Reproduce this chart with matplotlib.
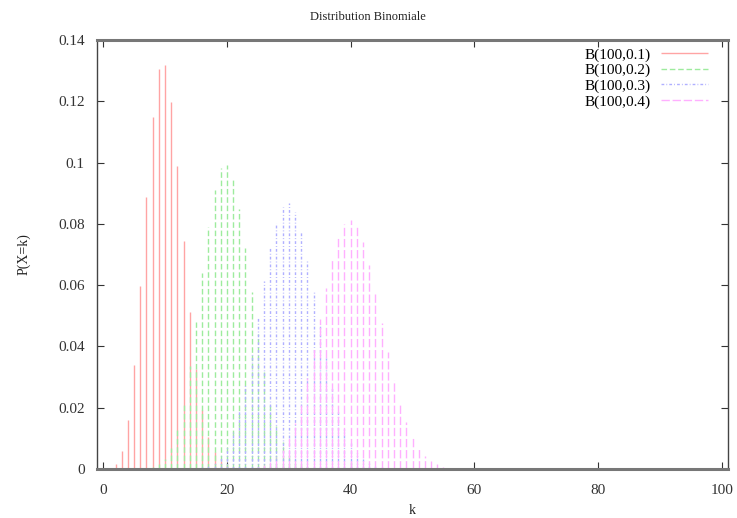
import matplotlib
matplotlib.use("Agg")
import matplotlib.pyplot as plt

# ---- data ----
k1_start = 0
p1 = [0.00003, 0.0003, 0.0016, 0.0059, 0.0159, 0.0339, 0.0596, 0.0889, 0.1148, 0.1304,
      0.1319, 0.1199, 0.0988, 0.0743, 0.0513, 0.0327, 0.0193, 0.0106, 0.0054, 0.0026,
      0.0012, 0.0005, 0.0002, 0.0001]
k2_start = 6
p2 = [0.0001, 0.0002, 0.0006, 0.0015, 0.0034, 0.0069, 0.0128, 0.0216, 0.0335, 0.0481,
      0.0638, 0.0789, 0.0909, 0.0981, 0.0993, 0.0946, 0.0849, 0.0720, 0.0577, 0.0439,
      0.0316, 0.0217, 0.0141, 0.0088, 0.0052, 0.0029, 0.0016, 0.0008, 0.0004, 0.0002]
k3_start = 15
p3 = [0.0002, 0.0006, 0.0012, 0.0024, 0.0044, 0.0076, 0.0124, 0.0190, 0.0277, 0.0380,
      0.0496, 0.0613, 0.0720, 0.0804, 0.0856, 0.0868, 0.0840, 0.0776, 0.0685, 0.0579,
      0.0468, 0.0362, 0.0268, 0.0191, 0.0130, 0.0085, 0.0053, 0.0032, 0.0019, 0.0010,
      0.0005, 0.0003]
k4_start = 24
p4 = [0.0003, 0.0006, 0.0012, 0.0022, 0.0038, 0.0063, 0.0100, 0.0151, 0.0217, 0.0297,
      0.0391, 0.0491, 0.0591, 0.0682, 0.0754, 0.0799, 0.0812, 0.0792, 0.0742, 0.0667,
      0.0576, 0.0478, 0.0381, 0.0292, 0.0215, 0.0152, 0.0103, 0.0068, 0.0042, 0.0026,
      0.0015, 0.0008, 0.0004]

labels = ["B(100,0.1)", "B(100,0.2)", "B(100,0.3)", "B(100,0.4)"]
colors = ["#ffa4a4", "#9eeb9e", "#b0b0ff", "#ffb0ff"]
styles = ["-", (0, (4, 2)), (0, (2, 1.5, 0.6, 1.5)), (0, (6, 2))]

xticks = [0, 20, 40, 60, 80, 100]
yticks = [0, 0.02, 0.04, 0.06, 0.08, 0.1, 0.12, 0.14]
ytick_labels = ["0", "0.02", "0.04", "0.06", "0.08", "0.1", "0.12", "0.14"]

plt.rcParams['font.family'] = ['Liberation Serif', 'DejaVu Serif']

fig = plt.figure(figsize=(7.37, 5.18), dpi=100)
ax = fig.add_axes([97/737, 1 - 469/518, (728-97)/737, (469-40)/518])

series = [(k1_start, p1), (k2_start, p2), (k3_start, p3), (k4_start, p4)]
for (ks, vals), lab, col, ls in zip(series, labels, colors, styles):
    ks_list = list(range(ks, ks + len(vals)))
    ax.vlines(ks_list, 0, vals, colors=col, linestyles=[ls], linewidth=1.0, label=lab)

ax.set_xlim(-1, 101)
ax.set_ylim(0, 0.14)
ax.set_xticks(xticks)
ax.set_xticklabels([str(v) for v in xticks])
ax.set_yticks(yticks)
ax.set_yticklabels(ytick_labels)
ax.tick_params(direction='in', top=True, right=True, length=5, width=0.8,
               labelsize=11, colors='#333333')
ax.tick_params(axis='x', pad=11)
ax.tick_params(axis='y', pad=9)
for s in ['left', 'right']:
    ax.spines[s].set_linewidth(1.0)
    ax.spines[s].set_color('#444444')
for s in ['top', 'bottom']:
    ax.spines[s].set_linewidth(2.2)
    ax.spines[s].set_color('#777777')

fig.text(368/737, 1 - 17/518, "Distribution Binomiale", fontsize=9, color='#222222',
         ha='center', va='center')
ax.set_xlabel("k", fontsize=10, labelpad=5, color='#222222')
ax.set_ylabel("P(X=k)", fontsize=10, labelpad=20, color='#222222')

leg = ax.legend(loc='upper right', frameon=False, markerfirst=False, fontsize=11,
                handlelength=3.1, handletextpad=0.7, labelspacing=0.12,
                borderaxespad=0.3, bbox_to_anchor=(1 - 9/631, 1.0 + 3/429))
for h in leg.legend_handles:
    h.set_linewidth(1.0)

fig.savefig("out.png", dpi=100)
